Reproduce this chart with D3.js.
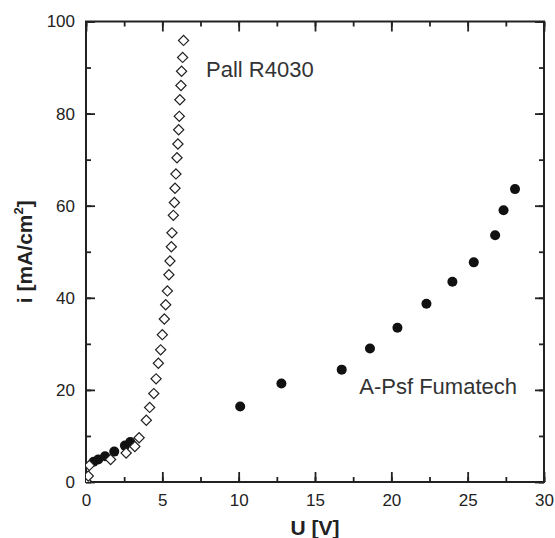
<!DOCTYPE html>
<html><head><meta charset="utf-8">
<script src="https://cdn.jsdelivr.net/npm/d3@7"></script>
<style>body{margin:0;background:#fff}svg{display:block}text{font-family:"Liberation Sans",Arial,sans-serif}</style>
</head><body><svg id="c" width="555" height="538"></svg>
<script>
const pallU = [0.0,0.15,0.22,1.61,2.63,3.2,3.48,3.95,4.17,4.44,4.59,4.74,4.89,5.0,5.13,5.22,5.33,5.43,5.5,5.59,5.63,5.72,5.79,5.83,5.89,5.96,6.02,6.07,6.11,6.15,6.22,6.26,6.33,6.39];
const pallI = [0.2,1.3,3.6,4.9,6.3,7.7,9.6,13.4,16.2,19.2,22.4,25.8,28.7,32.0,35.4,38.5,41.5,45.0,48.0,51.1,54.1,57.9,60.7,63.8,66.9,70.4,73.4,76.5,79.4,83.0,86.1,89.2,92.2,95.9];
const fumaU = [0.5,0.8,1.25,1.85,2.55,2.9,10.1,12.8,16.75,18.6,20.4,22.3,24.0,25.4,26.8,27.35,28.1];
const fumaI = [4.4,4.9,5.6,6.6,7.9,8.7,16.4,21.4,24.4,29.0,33.5,38.7,43.5,47.7,53.6,59.0,63.6];
const xTicks = [0,5,10,15,20,25,30];
const yTicks = [0,20,40,60,80,100];
const xTitle = "U [V]";
const yTitle = "i [mA/cm";
const labels = [{t:"Pall R4030",u:7.86,i:87.9},{t:"A-Psf Fumatech",u:17.9,i:19.2}];

const svg = d3.select("#c");
const m = {l:86,r:11,t:21.5,b:56};
const W = 555, H = 538;
const x = d3.scaleLinear().domain([0,30]).range([m.l, W-m.r]);
const y = d3.scaleLinear().domain([0,100]).range([H-m.b, m.t]);
const col = "#222";

svg.append("defs").append("clipPath").attr("id","clip").append("rect")
  .attr("x",m.l).attr("y",m.t).attr("width",W-m.l-m.r).attr("height",H-m.t-m.b);

const xMinor = d3.range(0,30.01,2.5);
const yMinor = d3.range(0,100.01,10);

svg.append("rect").attr("x",x(0)).attr("y",y(100)).attr("width",x(30)-x(0)).attr("height",y(0)-y(100))
  .attr("fill","none").attr("stroke",col).attr("stroke-width",2);

function styleAxis(g){
  g.select(".domain").remove();
  g.selectAll(".tick line").attr("stroke",col).attr("stroke-width",1.8);
  g.selectAll("text").attr("fill",col).attr("font-size",17);
}
function mk(gen, tx, ty){
  return svg.append("g").attr("transform",`translate(${tx},${ty})`).call(gen).call(styleAxis);
}
mk(d3.axisBottom(x).tickValues(xMinor).tickSize(-5).tickFormat(""), 0, y(0));
mk(d3.axisBottom(x).tickValues(xTicks).tickSize(-10).tickPadding(12).tickFormat(d3.format("d")), 0, y(0));
mk(d3.axisTop(x).tickValues(xMinor).tickSize(-5).tickFormat(""), 0, y(100));
mk(d3.axisTop(x).tickValues(xTicks).tickSize(-10).tickFormat(""), 0, y(100));
mk(d3.axisLeft(y).tickValues(yMinor).tickSize(-5).tickFormat(""), x(0), 0);
mk(d3.axisLeft(y).tickValues(yTicks).tickSize(-9).tickPadding(11).tickFormat(d3.format("d")), x(0), 0);
mk(d3.axisRight(y).tickValues(yMinor).tickSize(-5).tickFormat(""), x(30), 0);
mk(d3.axisRight(y).tickValues(yTicks).tickSize(-9).tickFormat(""), x(30), 0);

const data = svg.append("g").attr("clip-path","url(#clip)");
const fuma = fumaU.map((u,k)=>({u,i:fumaI[k]}));
const pall = pallU.map((u,k)=>({u,i:pallI[k]}));
data.selectAll("circle").data(fuma).join("circle")
  .attr("cx",d=>x(d.u)).attr("cy",d=>y(d.i)).attr("r",5).attr("fill","#111");
const dia = d3.symbol().type(d3.symbolSquare).size(52);
data.selectAll("path.d").data(pall).join("path").attr("class","d")
  .attr("d",dia).attr("transform",d=>`translate(${x(d.u)},${y(d.i)}) rotate(45)`)
  .attr("fill","#fff").attr("stroke","#222").attr("stroke-width",1.2);

svg.selectAll("text.lab").data(labels).join("text").attr("class","lab")
  .attr("x",d=>x(d.u)).attr("y",d=>y(d.i)).attr("font-size",22).attr("fill","#333").text(d=>d.t);

svg.append("text").attr("x",(x(0)+x(30))/2).attr("y",535).attr("text-anchor","middle")
  .attr("font-size",21).attr("font-weight","bold").attr("fill",col).text(xTitle);
const yt = svg.append("text").attr("transform",`translate(32,${(y(0)+y(100))/2}) rotate(-90)`)
  .attr("text-anchor","middle").attr("font-size",21).attr("font-weight","bold").attr("fill",col);
yt.append("tspan").text(yTitle);
yt.append("tspan").attr("font-size",13).attr("dy",-9).text("2");
yt.append("tspan").attr("dy",9).text("]");
</script></body></html>
